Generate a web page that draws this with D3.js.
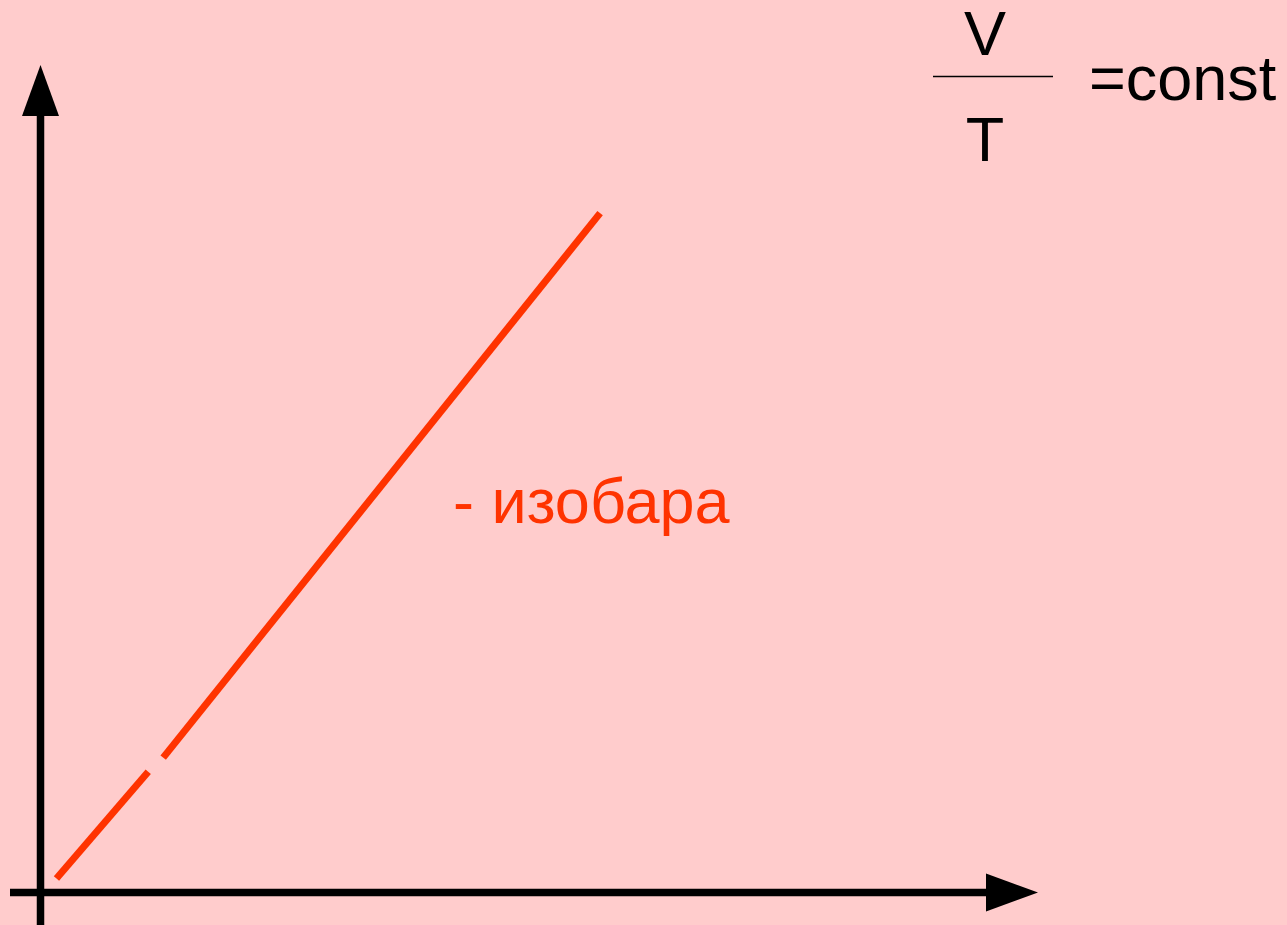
<!DOCTYPE html>
<html>
<head>
<meta charset="utf-8">
<script src="https://cdn.jsdelivr.net/npm/d3@7"></script>
<style>
  html, body { margin: 0; padding: 0; background: #ffcccc; overflow: hidden; }
  svg { display: block; }
</style>
</head>
<body>
<svg id="chart"></svg>
<script>
// isobar segments in (T, V) units, axes run 0..100
var isobarLow = [
  { t: 1.6, v: 1.7 },
  { t: 10.8, v: 14.6 }
];
var isobarHigh = [
  { t: 12.3, v: 16.3 },
  { t: 56.1, v: 82.1 }
];
var lineLabel = "- изобара";
var formulaTop = "V";
var formulaBottom = "T";
var formulaRight = "=const";

var width = 1287, height = 925;

var svg = d3.select("#chart")
    .attr("width", width)
    .attr("height", height);

// scales: origin sits where the axes cross
var x = d3.scaleLinear().domain([0, 100]).range([40.5, 1038]);
var y = d3.scaleLinear().domain([0, 100]).range([892.5, 65]);

var line = d3.line()
    .x(function(d) { return x(d.t); })
    .y(function(d) { return y(d.v); });

// axes
svg.append("line")
    .attr("x1", x(0)).attr("y1", height)
    .attr("x2", x(0)).attr("y2", y(100) + 45)
    .attr("stroke", "#000").attr("stroke-width", 7.5);

svg.append("line")
    .attr("x1", 10).attr("y1", y(0))
    .attr("x2", x(100) - 45).attr("y2", y(0))
    .attr("stroke", "#000").attr("stroke-width", 7.5);

// arrow heads
svg.append("path")
    .attr("d", "M" + x(0) + "," + y(100) +
               "L" + (x(0) + 18.5) + "," + (y(100) + 51) +
               "L" + (x(0) - 18.5) + "," + (y(100) + 51) + "Z")
    .attr("fill", "#000");

svg.append("path")
    .attr("d", "M" + x(100) + "," + y(0) +
               "L" + (x(100) - 52) + "," + (y(0) - 19) +
               "L" + (x(100) - 52) + "," + (y(0) + 19) + "Z")
    .attr("fill", "#000");

// isobar
[isobarLow, isobarHigh].forEach(function(seg) {
  svg.append("path")
      .datum(seg)
      .attr("d", line)
      .attr("fill", "none")
      .attr("stroke", "#ff3300")
      .attr("stroke-width", 7);
});

svg.append("text")
    .attr("x", 453).attr("y", 523)
    .attr("fill", "#ff3300")
    .style("font-family", "Liberation Sans, Arial, sans-serif")
    .style("font-size", "63px")
    .text(lineLabel);

// formula V / T = const
var formula = svg.append("g")
    .style("font-family", "Liberation Sans, Arial, sans-serif")
    .style("font-size", "63px")
    .attr("fill", "#000");

formula.append("text")
    .attr("x", 985).attr("y", 55)
    .attr("text-anchor", "middle")
    .text(formulaTop);

formula.append("line")
    .attr("x1", 933).attr("y1", 76.5)
    .attr("x2", 1053).attr("y2", 76.5)
    .attr("stroke", "#000").attr("stroke-width", 1.5);

formula.append("text")
    .attr("x", 985).attr("y", 161)
    .attr("text-anchor", "middle")
    .text(formulaBottom);

formula.append("text")
    .attr("x", 1089).attr("y", 100)
    .text(formulaRight);
</script>
</body>
</html>
